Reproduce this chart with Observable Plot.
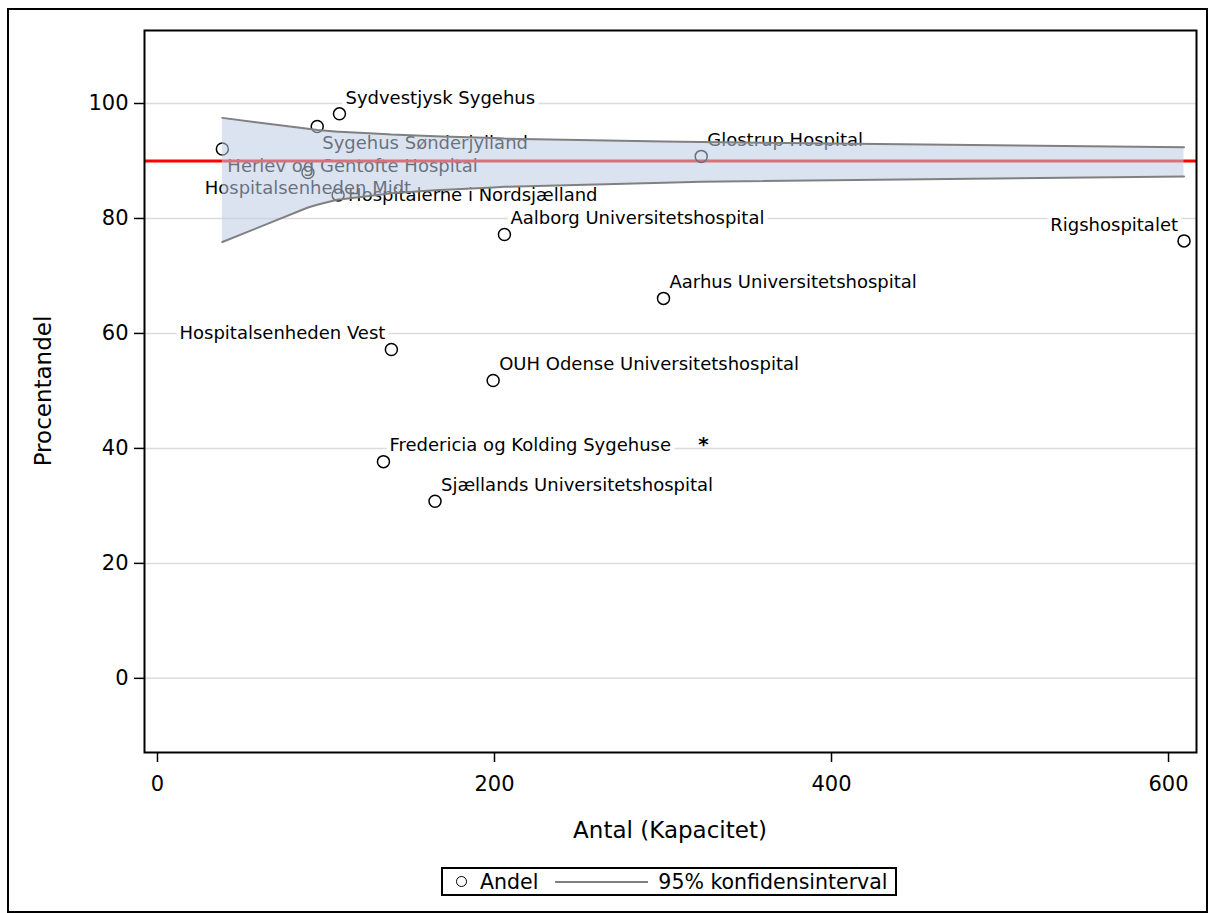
<!DOCTYPE html>
<html>
<head>
<meta charset="utf-8">
<script src="https://cdn.jsdelivr.net/npm/d3@7"></script>
<script src="https://cdn.jsdelivr.net/npm/@observablehq/plot@0.6"></script>
<style>
  html, body { margin: 0; padding: 0; background: #fff; }
  body { width: 1208px; height: 913px; position: relative; overflow: hidden; font-family: "DejaVu Sans", sans-serif; }
  #border { position: absolute; left: 7px; top: 8px; width: 1201px; height: 905px; box-sizing: border-box; border: 2px solid #000; }
  #chart { position: absolute; left: 0; top: 0; }
  .ytitle { position: absolute; left: 43px; top: 391px; transform: translate(-50%, -50%) rotate(-90deg); font-size: 23px; white-space: nowrap; color: #000; }
  .xtitle { position: absolute; left: 670px; top: 830px; transform: translate(-50%, -50%); font-size: 23px; white-space: nowrap; color: #000; }
  #legend { position: absolute; left: 441px; top: 867px; width: 456px; height: 29px; box-sizing: border-box; border: 2px solid #000; display: flex; align-items: center; font-size: 20.5px; color: #000; white-space: nowrap; }
  #legend .dot { width: 11px; height: 11px; border: 1.5px solid #000; border-radius: 50%; margin-left: 13px; box-sizing: border-box; flex: none; }
  #legend .t1 { margin-left: 13px; }
  #legend .ln { width: 93px; height: 0; border-top: 2px solid #808080; margin-left: 17px; flex: none; }
  #legend .t2 { margin-left: 10px; }
  #chart svg g[aria-label="x-axis tick label"] text, #chart svg g[aria-label="y-axis tick label"] text { font-size: 21px; }
</style>
</head>
<body>
<div id="border"></div>
<div id="chart"></div>
<div class="ytitle">Procentandel</div>
<div class="xtitle">Antal (Kapacitet)</div>
<div id="legend"><span class="dot"></span><span class="t1">Andel</span><span class="ln"></span><span class="t2">95% konfidensinterval</span></div>
<script>
// ---- Data ----
const hospitals = [
  "Herlev og Gentofte Hospital",
  "Hospitalsenheden Midt",
  "Sygehus Sønderjylland",
  "Hospitalerne i Nordsjælland",
  "Sydvestjysk Sygehus",
  "Fredericia og Kolding Sygehuse",
  "Hospitalsenheden Vest",
  "Sjællands Universitetshospital",
  "OUH Odense Universitetshospital",
  "Aalborg Universitetshospital",
  "Aarhus Universitetshospital",
  "Glostrup Hospital",
  "Rigshospitalet"
];
const antal = [38.5, 89.3, 94.8, 107.2, 108.0, 134.1, 138.8, 164.7, 199.2, 205.9, 300.3, 322.7, 609.2];
const andel = [92.1, 88.0, 96.0, 84.1, 98.2, 37.7, 57.2, 30.8, 51.8, 77.2, 66.1, 90.8, 76.1];
// label placement keyword per hospital
const labelSide = ["se", "s", "se", "e", "ne", "ne", "nw", "ne", "ne", "ne", "ne", "ne", "nw"];

// 95% confidence band (funnel)
const bandN  = [38.5, 89.3, 94.8, 107.2, 108.0, 134.1, 138.8, 164.7, 199.2, 205.9, 300.3, 322.7, 609.2];
const bandLo = [75.9, 81.9, 82.4, 83.3, 83.3, 84.2, 84.4, 84.9, 85.4, 85.5, 86.2, 86.4, 87.3];
const bandHi = [97.5, 95.6, 95.4, 95.1, 95.1, 94.7, 94.6, 94.3, 94.0, 93.9, 93.4, 93.3, 92.4];

const target = 90;
const yTicks = [0, 20, 40, 60, 80, 100];
const xTicks = [0, 200, 400, 600];
const notes = [{n: 324, pct: 40.7, text: "*"}];

// ---- Build tables ----
const pts = hospitals.map((h, i) => ({name: h, n: antal[i], pct: andel[i], side: labelSide[i]}));
const band = bandN.map((n, i) => ({n, lo: bandLo[i], hi: bandHi[i]}));

const placement = {
  ne: {textAnchor: "start", dx: 6, dy: -16},
  nw: {textAnchor: "end", dx: -6, dy: -16},
  se: {textAnchor: "start", dx: 5, dy: 17},
  s:  {textAnchor: "middle", dx: 0, dy: 16},
  e:  {textAnchor: "start", dx: 10, dy: 0}
};

const labelMarks = [];
for (const pass of ["halo", "fill"]) {
  for (const side of Object.keys(placement)) {
    const sub = pts.filter(d => d.side === side);
    if (!sub.length) continue;
    const opts = {x: "n", y: "pct", text: "name", fontSize: 18, lineAnchor: "middle", ...placement[side]};
    if (pass === "halo") labelMarks.push(Plot.text(sub, {...opts, fill: "none", stroke: "white", strokeWidth: 9, strokeLinejoin: "round"}));
    else labelMarks.push(Plot.text(sub, {...opts, fill: "black"}));
  }
}

const chart = Plot.plot({
  width: 1208,
  height: 845,
  marginLeft: 144,
  marginRight: 12,
  marginTop: 30,
  marginBottom: 93,
  style: {fontFamily: "DejaVu Sans, sans-serif", fontSize: "20px", background: "transparent", color: "black"},
  x: {domain: [-7.7, 616.6]},
  y: {domain: [-12.9, 112.7]},
  marks: [
    Plot.ruleY(yTicks, {stroke: "#dcdcdc", strokeWidth: 1.5}),
    ...labelMarks,
    Plot.text(notes, {x: "n", y: "pct", text: "text", fontSize: 20, fontWeight: "bold", fill: "black"}),
    Plot.ruleY([target], {stroke: "#ff0000", strokeWidth: 3}),
    Plot.dot(pts, {x: "n", y: "pct", r: 6, stroke: "black", strokeWidth: 1.5, fill: "none"}),
    Plot.areaY(band, {x: "n", y1: "lo", y2: "hi", fill: "#becce4", fillOpacity: 0.55, curve: "linear"}),
    Plot.line(band, {x: "n", y: "hi", stroke: "#808080", strokeWidth: 2}),
    Plot.line(band, {x: "n", y: "lo", stroke: "#808080", strokeWidth: 2}),
    Plot.axisX({ticks: xTicks, tickSize: 10, tickPadding: 14, fontSize: 21, label: null, strokeWidth: 1.5}),
    Plot.axisY({ticks: yTicks, tickSize: 10, tickPadding: 6, fontSize: 21, label: null, strokeWidth: 1.5}),
    Plot.frame({stroke: "black", strokeWidth: 2})
  ]
});
document.getElementById("chart").appendChild(chart);
</script>
</body>
</html>
